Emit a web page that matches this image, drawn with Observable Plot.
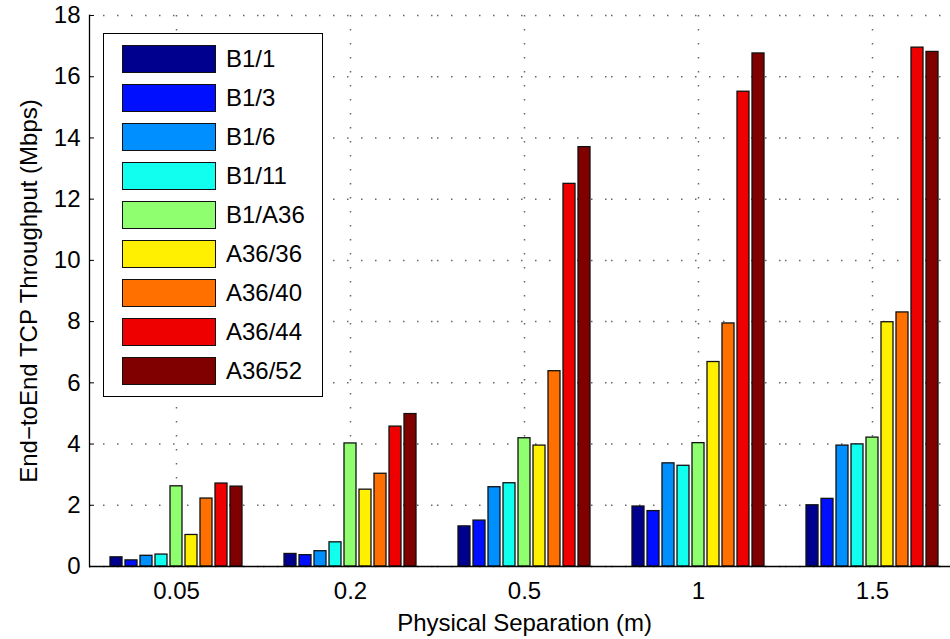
<!DOCTYPE html>
<html><head><meta charset="utf-8">
<script src="https://cdn.jsdelivr.net/npm/d3@7"></script>
<script src="https://cdn.jsdelivr.net/npm/@observablehq/plot@0.6"></script>
<style>
html,body{margin:0;padding:0;background:#fff;overflow:hidden;}
#wrap{position:relative;width:950px;height:639px;font-family:"Liberation Sans",Arial,sans-serif;}
#legend{position:absolute;left:103px;top:33px;width:220px;height:364px;border:1.3px solid #000;background:#fff;box-sizing:border-box;}
.row{position:absolute;left:18px;height:28px;display:flex;align-items:center;}
.sw{width:94px;height:28px;border:1.2px solid #111;box-sizing:border-box;}
.lb{margin-left:10px;font-size:24px;color:#000;line-height:28px;}
</style></head><body><div id="wrap"></div>
<script>
const separations = ["0.05", "0.2", "0.5", "1", "1.5"];
const series = ["B1/1", "B1/3", "B1/6", "B1/11", "B1/A36", "A36/36", "A36/40", "A36/44", "A36/52"];
const colors = ["#00008f", "#0010ff", "#008fff", "#10ffef", "#8fff70", "#ffef00", "#ff7000", "#ef0000", "#800000"];
const yTicks = [0, 2, 4, 6, 8, 10, 12, 14, 16, 18];

const b1_1   = [0.30, 0.41, 1.31, 1.96, 2.00];
const b1_3   = [0.20, 0.37, 1.50, 1.81, 2.21];
const b1_6   = [0.35, 0.50, 2.59, 3.37, 3.95];
const b1_11  = [0.39, 0.79, 2.72, 3.29, 3.99];
const b1_a36 = [2.62, 4.02, 4.19, 4.03, 4.21];
const a36_36 = [1.03, 2.51, 3.95, 6.68, 7.98];
const a36_40 = [2.22, 3.03, 6.38, 7.94, 8.30];
const a36_44 = [2.71, 4.57, 12.50, 15.51, 16.95];
const a36_52 = [2.61, 4.98, 13.70, 16.76, 16.81];
const seriesValues = [b1_1, b1_3, b1_6, b1_11, b1_a36, a36_36, a36_40, a36_44, a36_52];

const table = separations.flatMap((sep, j) =>
  series.map((s, i) => ({sep, series: s, value: seriesValues[i][j]})));

const gridStyle = {stroke: "#000", strokeOpacity: 0.6, strokeWidth: 1.5, strokeDasharray: "1.5,12.5"};

const chart = Plot.plot({
  width: 950, height: 639,
  marginLeft: 88, marginRight: -9, marginTop: 15, marginBottom: 73,
  style: {fontFamily: "Liberation Sans, Arial, sans-serif", fontSize: "24px", background: "white", overflow: "hidden", color: "#000"},
  fx: {domain: separations, padding: 0},
  x: {domain: series, paddingInner: 0.2, paddingOuter: 1.225, axis: null},
  y: {domain: [0, 18]},
  color: {domain: series, range: colors},
  marks: [
    Plot.ruleY(yTicks, {y: d => d, ...gridStyle}),
    Plot.ruleX([series[4]], {x: d => d, ...gridStyle}),
    Plot.barY(table, {fx: "sep", x: "series", y: "value", fill: "series", stroke: "#111", strokeWidth: 1.3}),
    Plot.ruleY([0], {stroke: "#000", strokeWidth: 1.3}),
    Plot.frame({anchor: "left", facetAnchor: "left", stroke: "#000", strokeWidth: 1.3}),
    Plot.axisY({ticks: yTicks, tickSize: -5, tickPadding: 14, fontSize: 24,
      label: "End\u2212toEnd TCP Throughput (Mbps)", labelAnchor: "center", labelArrow: "none", labelOffset: 70}),
    Plot.axisFx({anchor: "bottom", tickSize: 0, tickPadding: 15, fontSize: 24,
      label: "Physical Separation (m)", labelAnchor: "center", labelArrow: "none", labelOffset: 64})
  ]
});

const wrap = document.getElementById("wrap");
wrap.appendChild(chart);

const legend = document.createElement("div");
legend.id = "legend";
series.forEach((s, i) => {
  const row = document.createElement("div");
  row.className = "row";
  row.style.top = (11 + 39 * i) + "px";
  const sw = document.createElement("div");
  sw.className = "sw";
  sw.style.background = colors[i];
  const lb = document.createElement("span");
  lb.className = "lb";
  lb.textContent = s;
  row.appendChild(sw); row.appendChild(lb);
  legend.appendChild(row);
});
wrap.appendChild(legend);
</script></body></html>
